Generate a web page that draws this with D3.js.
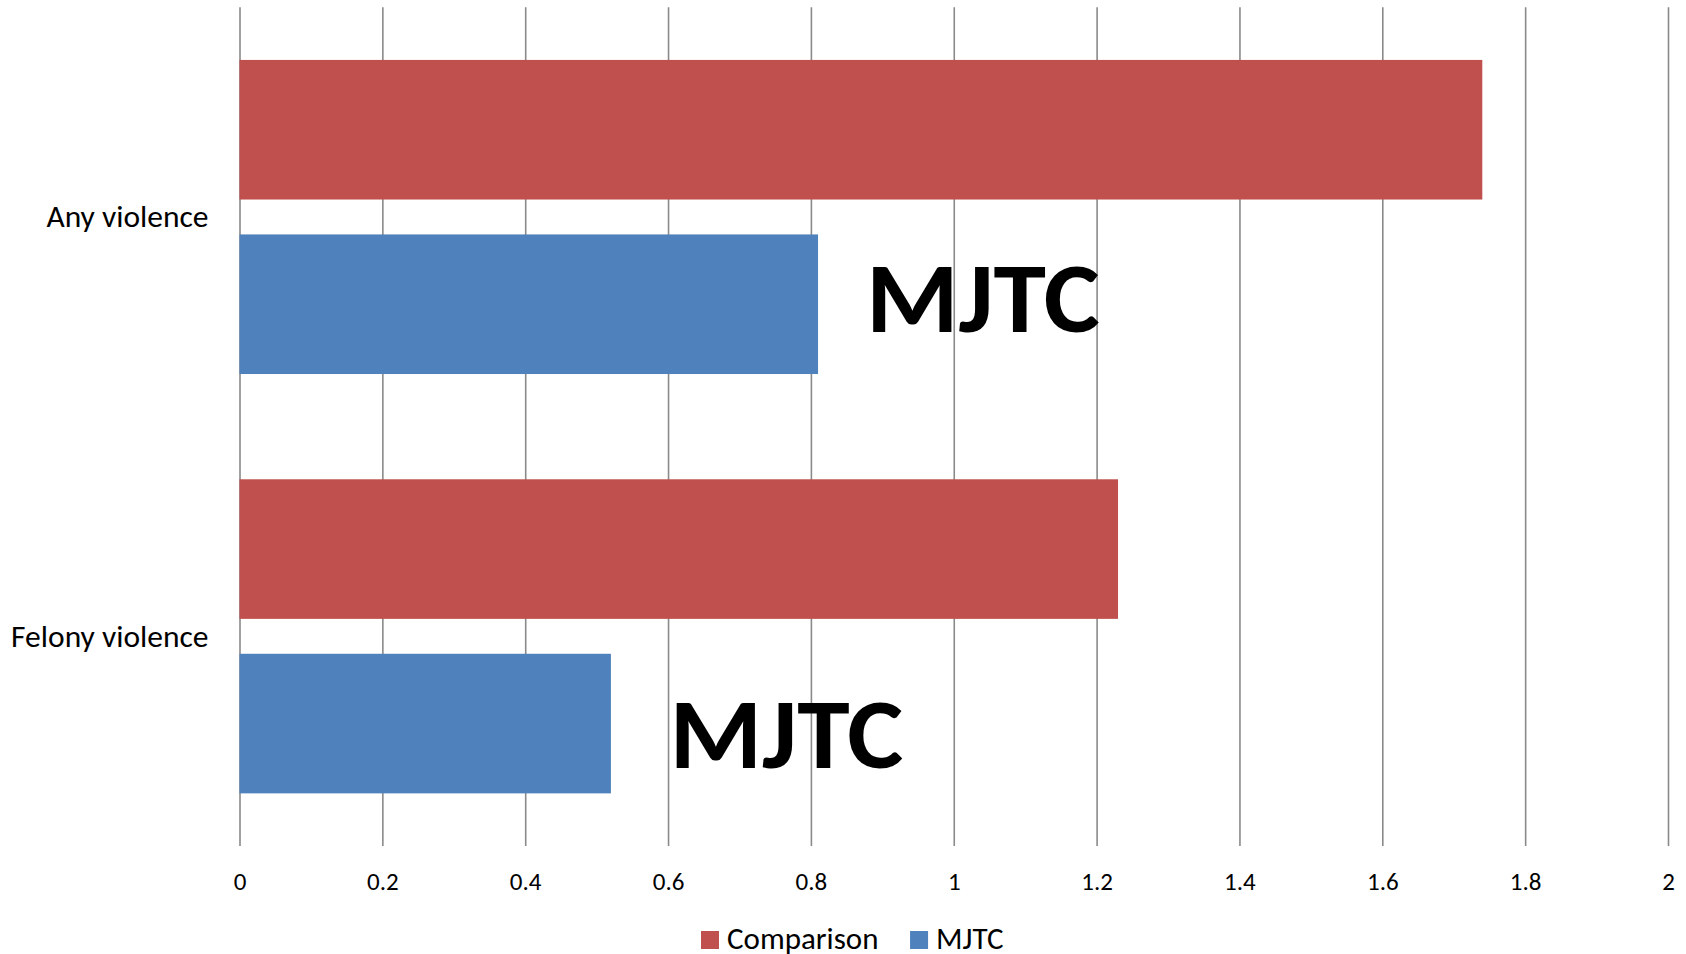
<!DOCTYPE html>
<html lang="en">
<head>
    <meta charset="utf-8">
    <title>Violence comparison</title>
    <script type="text/javascript" src="https://cdnjs.cloudflare.com/ajax/libs/d3/7.8.5/d3.min.js"></script>
    <style type="text/css">
        body {
            margin: 0;
            background: #fff;
        }
        text {
            font-family: Carlito, Calibri, Lato, sans-serif;
            fill: #000;
        }
    </style>
</head>
<body>
    <script type="text/javascript">
        // Data
        var categories = ["Any violence", "Felony violence"];
        var series = ["Comparison", "MJTC"];
        var comparison = [1.74, 1.23];
        var mjtc = [0.81, 0.52];
        var xTicks = [0, 0.2, 0.4, 0.6, 0.8, 1, 1.2, 1.4, 1.6, 1.8, 2];
        var colors = ["#C0504D", "#4F81BD"];
        var noteText = ["MJTC", "MJTC"];

        // Width and height
        var w = 1686;
        var h = 954;
        var plotLeft = 239.5, plotRight = 1668, plotTop = 7.3, plotBottom = 846;

        var svg = d3.select("body")
            .append("svg")
            .attr("width", w)
            .attr("height", h);

        var x = d3.scaleLinear()
            .domain([0, 2])
            .range([plotLeft, plotRight]);

        var y = d3.scaleBand()
            .domain(categories)
            .range([plotTop, plotBottom])
            .paddingInner(0.251)
            .paddingOuter(0.1255);

        var ySub = d3.scaleBand()
            .domain(series)
            .range([0, y.bandwidth()])
            .paddingInner(0.2);

        var color = d3.scaleOrdinal()
            .domain(series)
            .range(colors);

        // Gridlines + tick labels
        var axis = svg.append("g")
            .attr("transform", "translate(0," + plotBottom + ")")
            .call(d3.axisBottom(x)
                .tickValues(xTicks)
                .tickFormat(d3.format("~g"))
                .tickSizeInner(-(plotBottom - plotTop))
                .tickSizeOuter(0));
        axis.select(".domain").remove();
        axis.selectAll(".tick line")
            .attr("stroke", "#8a8a8a")
            .attr("stroke-width", 1.6);
        axis.selectAll(".tick text")
            .attr("y", 44)
            .attr("dy", null)
            .style("font-size", "25px")
            .style("fill", "#000");

        // Bars
        var rows = categories.map(function(c, i) {
            return { category: c, values: [comparison[i], mjtc[i]] };
        });

        var groups = svg.selectAll("g.cat")
            .data(rows)
            .enter()
            .append("g")
            .attr("class", "cat")
            .attr("transform", function(d) { return "translate(0," + y(d.category) + ")"; });

        groups.selectAll("rect")
            .data(function(d) {
                return series.map(function(s, j) { return { key: s, value: d.values[j] }; });
            })
            .enter()
            .append("rect")
            .attr("x", x(0))
            .attr("y", function(d) { return ySub(d.key); })
            .attr("width", function(d) { return x(d.value) - x(0); })
            .attr("height", ySub.bandwidth())
            .attr("fill", function(d) { return color(d.key); });

        // Category labels
        svg.selectAll("text.cat")
            .data(categories)
            .enter()
            .append("text")
            .attr("class", "cat")
            .attr("x", plotLeft - 31)
            .attr("y", function(d) { return y(d) + y.bandwidth() / 2 + 10.5; })
            .attr("text-anchor", "end")
            .style("font-size", "31.5px")
            .text(function(d) { return d; });

        // Big MJTC notes next to the blue bars
        var noteX = [0.877, 0.602];
        var noteDy = [97.6, 114.3];
        svg.selectAll("text.note")
            .data(noteText)
            .enter()
            .append("text")
            .attr("class", "note")
            .attr("x", function(d, i) { return x(noteX[i]); })
            .attr("y", function(d, i) { return y(categories[i]) + ySub("MJTC") + noteDy[i]; })
            .attr("textLength", 234)
            .attr("lengthAdjust", "spacingAndGlyphs")
            .style("font-size", "100px")
            .style("font-weight", "bold")
            .text(function(d) { return d; });

        // Legend
        var legend = svg.append("g").attr("class", "legend");
        var lx = 701;
        series.forEach(function(s) {
            legend.append("rect")
                .attr("x", lx)
                .attr("y", 931)
                .attr("width", 18)
                .attr("height", 18)
                .attr("fill", color(s));
            var t = legend.append("text")
                .attr("x", lx + 26)
                .attr("y", 948.5)
                .style("font-size", "31px")
                .text(s);
            lx += 26 + t.node().getComputedTextLength() + 31.6;
        });
    </script>
</body>
</html>
